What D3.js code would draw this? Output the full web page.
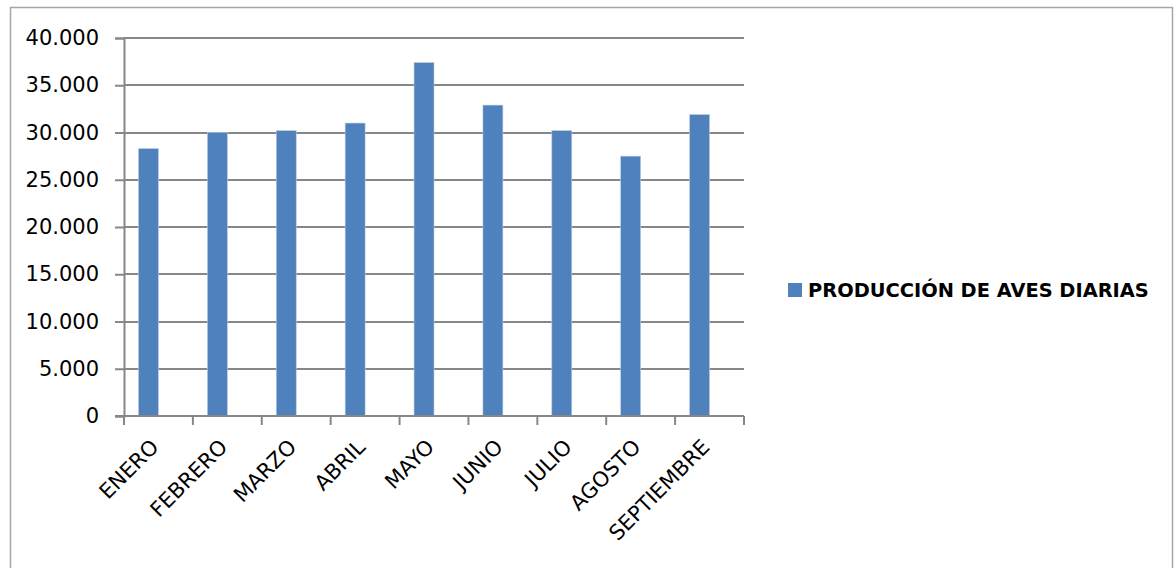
<!DOCTYPE html>
<html>
<head>
<meta charset="utf-8">
<script src="https://cdn.jsdelivr.net/npm/d3@7"></script>
<style>
  html, body { margin: 0; padding: 0; background: #fff; }
  svg { display: block; }
  text { font-family: "DejaVu Sans", sans-serif; fill: #000; }
</style>
</head>
<body>
<svg id="chart" width="1174" height="568"></svg>
<script>
// Monthly bird production (units per day)
const categories = ["ENERO", "FEBRERO", "MARZO", "ABRIL", "MAYO", "JUNIO", "JULIO", "AGOSTO", "SEPTIEMBRE"];
const produccion = [28300, 30000, 30200, 31000, 37400, 32900, 30200, 27500, 31900];
const seriesNames = ["PRODUCCIÓN DE AVES DIARIAS", ""];
const yTicks = [0, 5000, 10000, 15000, 20000, 25000, 30000, 35000, 40000];

const svg = d3.select("#chart");
const plot = { left: 124, right: 744, top: 38, bottom: 416 };

// Spanish number formatting: "40.000"
const es = d3.formatLocale({ decimal: ",", thousands: ".", grouping: [3], currency: ["", ""] });
const fmt = es.format(",d");

// Outer chart frame
svg.append("rect")
  .attr("x", 10.5).attr("y", 7.5)
  .attr("width", 1162).attr("height", 620)
  .attr("fill", "#fff")
  .attr("stroke", "#a6a6a6").attr("stroke-width", 1.5);

const x = d3.scaleBand().domain(categories).range([plot.left, plot.right]).paddingInner(0).paddingOuter(0);
// clustered layout: the visible series takes the first slot of each group
const xSub = d3.scaleBand().domain(seriesNames).range([0, x.bandwidth()]).paddingInner(0).paddingOuter(0.725);
const y = d3.scaleLinear().domain([0, 40000]).range([plot.bottom, plot.top]);

// Horizontal gridlines
svg.append("g").selectAll("line").data(yTicks.filter(d => d > 0)).join("line")
  .attr("x1", plot.left).attr("x2", plot.right)
  .attr("y1", d => Math.round(y(d))).attr("y2", d => Math.round(y(d)))
  .attr("stroke", "#878787").attr("stroke-width", 2);

// Bars
svg.append("g").selectAll("rect").data(produccion).join("rect")
  .attr("x", (d, i) => x(categories[i]) + xSub(seriesNames[0]))
  .attr("width", xSub.bandwidth())
  .attr("y", d => y(d))
  .attr("height", d => y(0) - y(d))
  .attr("fill", "#4f81bd")
  .attr("stroke", "#b9cde5").attr("stroke-width", 0.6);

// Y axis
const yAxis = svg.append("g").attr("transform", `translate(${plot.left},0)`)
  .call(d3.axisLeft(y).tickValues(yTicks).tickFormat(fmt).tickSize(9).tickPadding(16));
yAxis.select(".domain").attr("stroke", "#878787").attr("stroke-width", 2);
yAxis.selectAll(".tick line").attr("stroke", "#878787").attr("stroke-width", 2);
yAxis.selectAll(".tick text")
  .attr("font-family", "DejaVu Sans").attr("font-size", 21).attr("fill", "#000");

// X axis: line with tick marks at category boundaries
const bounds = categories.map(c => x(c)).concat([plot.right]);
svg.append("line")
  .attr("x1", plot.left - 9).attr("x2", plot.right)
  .attr("y1", plot.bottom).attr("y2", plot.bottom)
  .attr("stroke", "#878787").attr("stroke-width", 2);
svg.append("g").selectAll("line").data(bounds).join("line")
  .attr("x1", d => d).attr("x2", d => d)
  .attr("y1", plot.bottom).attr("y2", plot.bottom + 9)
  .attr("stroke", "#878787").attr("stroke-width", 2);

// Rotated category labels
svg.append("g").selectAll("text").data(categories).join("text")
  .attr("transform", c => `translate(${x(c) + x.bandwidth() / 2 - 9},${plot.bottom + 22}) rotate(-45)`)
  .attr("text-anchor", "end")
  .attr("dy", "0.7em")
  .attr("font-size", 21)
  .text(c => c);

// Legend
const legend = svg.append("g").attr("transform", "translate(788,283)");
legend.append("rect").attr("width", 14).attr("height", 14).attr("fill", "#4f81bd");
legend.append("text")
  .attr("x", 20).attr("y", 13.5)
  .attr("font-size", 19.4).attr("font-weight", "bold")
  .text(seriesNames[0]);
</script>
</body>
</html>
